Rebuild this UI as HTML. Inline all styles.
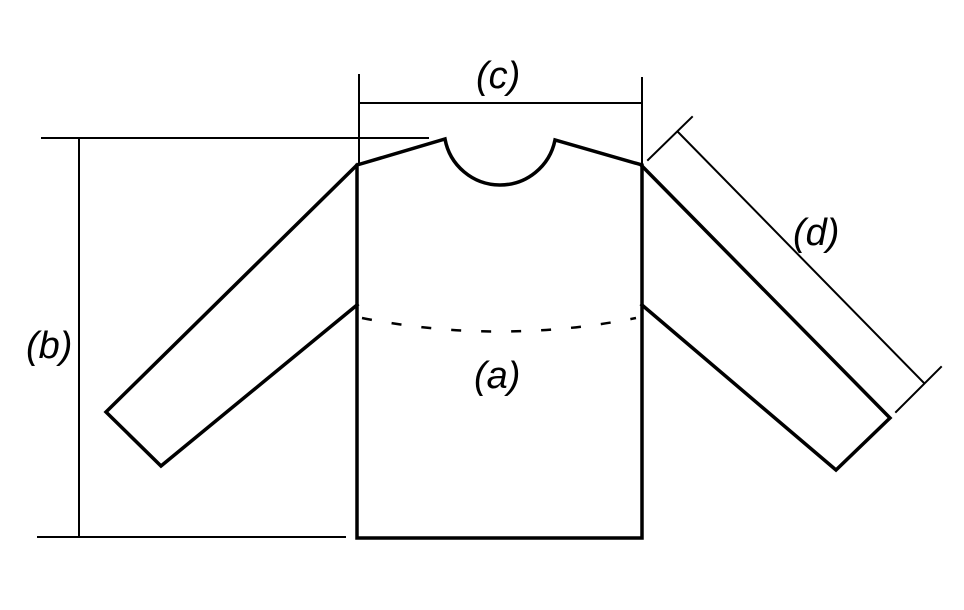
<!DOCTYPE html>
<html><head><meta charset="utf-8"><style>
html,body{margin:0;padding:0;background:#fff}
svg{display:block}
text{font-family:"Liberation Sans",sans-serif;font-style:italic;font-size:38px;fill:#000}
</style></head><body>
<svg width="964" height="610" viewBox="0 0 964 610" xmlns="http://www.w3.org/2000/svg">
<g fill="none" stroke="#000" stroke-linecap="square">
<g stroke-width="2">
<line x1="359" y1="75" x2="359" y2="165"/>
<line x1="642" y1="78" x2="642" y2="165"/>
<line x1="359" y1="103" x2="642" y2="103"/>
<line x1="42" y1="138" x2="428" y2="138"/>
<line x1="38" y1="537" x2="345" y2="537"/>
<line x1="79" y1="138" x2="79" y2="537"/>
<line x1="648" y1="160" x2="692" y2="117"/>
<line x1="678" y1="132" x2="924" y2="383"/>
<line x1="896" y1="412" x2="941" y2="367"/>
</g>
<g stroke-width="3.5" stroke-linejoin="miter">
<path d="M357,165 L445,139 A56,56 0 0 0 555,140 L642,165 L642,538 L357,538 Z"/>
<path d="M357,165 L106,412 L161,466 L357,305"/>
<path d="M642,166 L890,418 L836,470 L642,305"/>
</g>
<path d="M362,318 Q500,345 636,318" stroke-width="2.5" stroke-dasharray="10,20" stroke-linecap="butt"/>
</g>
<text x="476" y="88">(c)</text>
<text x="26" y="358">(b)</text>
<text x="474" y="388">(a)</text>
<text x="793" y="245">(d)</text>
</svg>
</body></html>
